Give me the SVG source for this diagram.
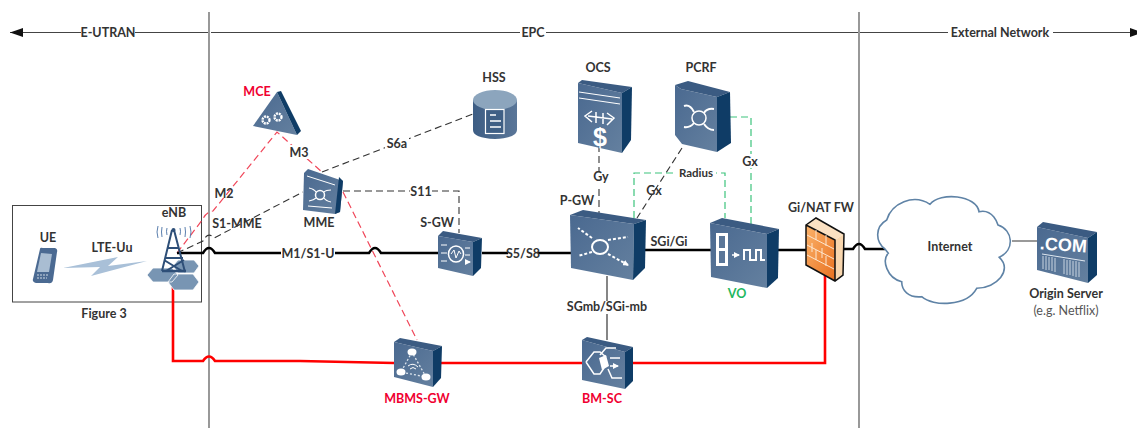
<svg xmlns="http://www.w3.org/2000/svg" width="1137" height="428" viewBox="0 0 1137 428">
<style>
text{font-family:Lato,"Liberation Sans",sans-serif;font-size:12.5px;font-weight:700;fill:#333;text-anchor:middle}
.r{fill:#f00030}.g{fill:#1fb860}
.n{font-weight:400;fill:#555}
.d{fill:none;stroke:#333;stroke-width:1.1;stroke-dasharray:7 4}
.dr{fill:none;stroke:#f0475a;stroke-width:1.2;stroke-dasharray:7 4}
.dg{fill:none;stroke:#3cc47c;stroke-width:1.2;stroke-dasharray:7 4}
.k{fill:none;stroke:#000;stroke-width:2.5}
.rl{fill:none;stroke:#f00;stroke-width:2.6}
.f{fill:url(#face)}.s{fill:#0f3c66}.t{fill:#3b5b82}
.w{fill:none;stroke:#fff;stroke-width:1.5}
.v{fill:none;stroke:#dfe7ef;stroke-width:1.3;stroke-dasharray:2 2}
.lb{fill:#fff;stroke:none}
</style>
<defs>
<marker id="a" viewBox="0 0 13 9" refX="13" refY="4.500" markerUnits="userSpaceOnUse" markerWidth="13" markerHeight="9" orient="auto-start-reverse"><path d="M0 0L13 4.500L0 9z" fill="#111"/></marker>
<marker id="wa" viewBox="0 0 6 6" refX="5" refY="3" markerUnits="userSpaceOnUse" markerWidth="6" markerHeight="6" orient="auto"><path d="M0 0L6 3L0 6z" fill="#fff"/></marker>
<linearGradient id="face" x1="0" y1="0" x2="1" y2="1"><stop offset="0" stop-color="#4a6990"/><stop offset="1" stop-color="#64809f"/></linearGradient>
<linearGradient id="fire" x1="0" y1="0" x2="1" y2="1"><stop offset="0" stop-color="#fbb36b"/><stop offset="1" stop-color="#e8701f"/></linearGradient>
<linearGradient id="cyl" x1="0" y1="0" x2="1" y2="0"><stop offset="0" stop-color="#3d5d84"/><stop offset="1" stop-color="#5a7698"/></linearGradient>
</defs>
<g id="zones" fill="none">
<path d="M209 12V428M859 12V428" stroke="#555" stroke-width="1.2"/>
<rect x="12.500" y="205.500" width="189" height="96.500" stroke="#444" stroke-width="1"/>
<path d="M10 32.500H208M211 32.500H858M860 32.500H1143" stroke="#444" stroke-width="1" marker-start="url(#a)" marker-end="url(#a)"/>
<rect class="lb" x="81" y="25" width="54" height="14"/><rect class="lb" x="520" y="25" width="26" height="14"/><rect class="lb" x="948" y="25" width="105" height="14"/>
<text x="108" y="37">E-UTRAN</text>
<text x="533" y="37">EPC</text>
<text x="1000" y="37">External Network</text>
</g>
<g id="connectors">
<path class="d" d="M177 253L203 241Q208 231 214 238L303 192M343 191H459V233M322 172L473 114"/>
<path class="dr" d="M177 253L203 219Q206 212 213 211L277 132L322 172M343 192L417 340"/>
<path class="k" d="M177 253H203Q209 243 215 253H369Q375 243 381 253H438M482 253H572M645 250H712M778 250H806M844 249H853Q859 239 865 249H885"/>
<path class="rl" d="M173 286V361H203Q209 352 215 361H300L394 363H825V275"/>
<path class="d" d="M599 145V213M682 148L637 218"/>
<path class="dg" d="M634 218V173H725V218M730 117H751V225"/>
<path d="M607 276V340" stroke="#222" stroke-width="1.1" fill="none"/>
<path d="M1012 241H1042" stroke="#555" stroke-width="1.2" fill="none"/>
</g>
<g id="ue"><path d="M40 249Q40 247 43 248L55 248Q58 249 57 252L53 280Q52 284 48 283L36 283Q32 282 33 279z" fill="#4b6a92"/><path d="M41 253L52 254L49 272L37 272z" fill="#a9bdd2"/><path d="M37 275H48M37 278H47" stroke="#cfd9e4" stroke-dasharray="2 1" fill="none"/><text x="48" y="242">UE</text></g>
<g id="lte"><path d="M63 268L118 257L108 266L147 261L91 276L100 267z" fill="#a9c0d8"/><text x="112" y="252">LTE-Uu</text></g>
<g id="enb">
<path d="M173 266l5-6h16l5 6-5 7h-16zM147 275l6-7h19l6 7-6 7h-19zM168 282l6-8h19l6 8-6 8h-19z" fill="#7895b3" stroke="#fff" stroke-width=".8"/>
<path d="M162 271L172 230M174 230L185 272M165 258L183 258M168 248H179M164 260L182 271M184 260L166 271" fill="none" stroke="#2e4f78" stroke-width="2"/>
<path d="M162 271H186" stroke="#2e4f78" stroke-width="2.500"/>
<circle cx="173.500" cy="230" r="2" fill="#2e4f78"/>
<path d="M158 226q-2 6 0 12M162 227q-1 5 0 10M167 228q-1 3 0 7M180 228q1 3 0 7M185 227q1 5 0 10M190 226q2 6 0 12" fill="none" stroke="#5b7fae" stroke-width="1"/>
<text x="174" y="217">eNB</text></g>
<g id="mce"><path d="M277 92L253 126L297 135z" class="f"/><path d="M277 92L301 131L297 135L253 126z" class="f" fill-opacity="0"/><path d="M277 92L281 91L301 131L297 135z" class="s"/><circle cx="266" cy="120" r="3.500" class="w" stroke-dasharray="2 .8" style="stroke-width:2.400"/><circle cx="278" cy="117" r="3.500" class="w" stroke-dasharray="2 .8" style="stroke-width:2.400"/><text class="r" x="257" y="96">MCE</text></g>
<g id="mme"><path d="M304 173L308 169L343 181L340 212L335 214L303 210z" class="f"/><path d="M339 177L343 181L340 212L335 214z" class="s"/><circle cx="320" cy="195" r="4.500" class="w"/><path d="M307 176L335 185M308 206L332 208" class="w" style="stroke-width:1"/><path d="M309 188Q314 189 316 192M309 201Q314 200 316 198M331 190Q326 190 324 192M331 202Q326 201 324 198" class="w" style="stroke-width:1.100"/><text x="319" y="227">MME</text></g>
<g id="hss"><path d="M473 100V130Q473 138 495 139Q517 138 517 130V100z" fill="url(#cyl)"/><ellipse cx="495" cy="100" rx="22" ry="10" fill="#8ca5bd"/><rect x="485.500" y="109.500" width="18.500" height="24" fill="#3f5f85" stroke="#fff" stroke-width="1.200"/><path d="M490 115H496M490 121H501M490 127H501" stroke="#fff" stroke-width="1.300"/><text x="494" y="82">HSS</text></g>
<g id="ocs"><path d="M578 83L622 93L622 153L578 143z" class="f"/><path d="M578 83L582 80L632 87L622 93z" class="t"/><path d="M622 93L632 87L631 140L622 153z" class="s"/><path d="M579 92L620 98M579 98L620 104" class="w" style="stroke-width:1"/><path d="M588 116L612 119M592 111L585 116L592 122M607 113L614 118L607 125M596 112V123M603 113V124" class="w"/><text x="600" y="146" style="font-size:25px;font-weight:700;fill:#fff;font-family:'Liberation Sans',sans-serif">$</text><text x="598" y="72">OCS</text></g>
<g id="pcrf"><path d="M675 85L681 89L717 97L717 152L682 144L675 135z" class="f"/><path d="M675 85L688 81L730 92L717 97L681 89z" class="t"/><path d="M717 97L730 92L731 143L717 152z" class="s"/><circle cx="699" cy="118" r="7" class="w"/><path d="M684 106Q690 104 694 112M714 109Q707 108 704 113M684 127Q690 128 694 123M714 130Q708 130 704 124" class="w" style="stroke-width:2"/><text x="701" y="72">PCRF</text></g>
<g id="sgw"><path d="M438 236L473 242L473 276L438 268z" class="f"/><path d="M438 236L443 231L482 238L473 242z" class="t"/><path d="M473 242L482 238L481 268L473 276z" class="s"/><ellipse cx="456" cy="254" rx="7.500" ry="8" class="w"/><path d="M451 254L454 250L456 258L459 251L461 254" fill="none" stroke="#fff"/><path d="M441 245H447M441 253H447M441 261H447M465 248H470M465 255H470M465 262H470" class="w" marker-end="url(#wa)" style="stroke-width:1"/><text x="437" y="227">S-GW</text></g>
<g id="pgw"><path d="M570 215L634 224L633 280L571 268z" class="f"/><path d="M570 215L583 210L646 220L634 224z" class="t"/><path d="M634 224L646 220L645 268L633 280z" class="s"/><ellipse cx="600" cy="247" rx="8" ry="7" class="w" style="stroke-width:2"/><path d="M592 238L578 228M608 240L628 237M592 252L578 256M608 254L628 265" class="w" stroke-dasharray="3 2" marker-end="url(#wa)" style="stroke-width:2"/><text x="577" y="205">P-GW</text></g>
<g id="vo"><path d="M710 223L767 234L767 288L711 277z" class="f"/><path d="M710 223L722 218L779 229L767 234z" class="t"/><path d="M767 234L779 229L778 278L767 288z" class="s"/><rect x="716" y="233" width="12" height="33" fill="#fff"/><rect x="719" y="236" width="6" height="12" fill="#5a7698"/><rect x="719" y="251" width="6" height="12" fill="#5a7698"/><path d="M732 255H739" class="w" marker-end="url(#wa)"/><path d="M744 260V250H750V260H756V250H761V260H765" class="w" style="stroke-width:2"/><text class="g" x="737" y="298">VO</text></g>
<g id="firewall"><path d="M806 225L816 218L844 234L835 240z" fill="#fbe1c2"/><path d="M806 225L835 240L835 281L806 265z" fill="url(#fire)"/><path d="M835 240L844 234L843 275L835 281z" fill="#f8d6ae"/><path d="M806 225L816 218L844 234L843 275L835 281L806 265zM806 225L835 240V281" fill="none" stroke="#111" stroke-width="1.500"/><path d="M807 235L834 249M807 245L834 259M807 255L834 269M816 230V240M826 235V246M812 243V252M822 248V258M816 250V260M826 256V266" stroke="#fde6cf" fill="none"/><text x="821" y="212">Gi/NAT FW</text></g>
<g id="internet"><path d="M885 249C875 241.700 875 226.700 886.700 220C891.700 203.300 913.300 193.300 930 204.300C940 191.700 976.700 195 979 211.700C993.300 208.300 998 225 998 225C1013.300 230 1015 250 999.300 257.300C1013 270 996.700 288.300 976.700 288.300C966.700 306.700 933 306.700 921.700 296.700C908 298 901.700 290 901.700 281.700C886.700 278 881.700 260 888.300 253.300z" fill="#fff" stroke="#5f83a6" stroke-width="1.600"/><text x="950" y="251">Internet</text></g>
<g id="origin"><path d="M1037 227L1088 238L1088 283L1037 270z" class="f"/><path d="M1037 227L1043 222L1097 232L1088 238z" class="t"/><path d="M1088 238L1097 232V275L1088 283z" class="s"/><text x="1063" y="251" transform="rotate(4 1063 251)" style="font-size:18px;font-weight:700;fill:#fff;font-family:'Liberation Sans',sans-serif">.COM</text><path d="M1042 254L1085 261" stroke="#dfe7ef" fill="none"/><path d="M1043 256V269M1046 256V270M1049 257V270M1052 257V271M1055 258V272M1064 259V274M1067 260V275M1070 260V275M1073 261V276M1076 261V277M1079 262V277" stroke="#c9d5e1" fill="none"/><text x="1066" y="298">Origin Server</text><text class="n" x="1066" y="315">(e.g. Netflix)</text></g>
<g id="mbms"><path d="M394 342L433 351L433 387L394 377z" class="f"/><path d="M394 342L400 338L442 346L433 351z" class="t"/><path d="M433 351L442 346L441 378L433 387z" class="s"/><path d="M412 352L401 372L426 377z" class="v"/><ellipse cx="412" cy="352" rx="4.500" ry="3.500" fill="#fff"/><ellipse cx="401" cy="372" rx="4.500" ry="3.500" fill="#fff"/><ellipse cx="426" cy="377" rx="4.500" ry="3.500" fill="#fff"/><path d="M408 366Q413 362 418 367M410 369Q413 366 416 369" fill="none" stroke="#fff"/><text class="r" x="417" y="403">MBMS-GW</text></g>
<g id="bmsc"><path d="M582 340L625 352L625 389L582 380z" class="f"/><path d="M582 340L587 337L633 347L625 352z" class="t"/><path d="M625 352L633 347V381L625 389z" class="s"/><path d="M586 362L594 352H600L606 357M586 362L594 374H600L604 368M600 355L606 348H616M608 369L612 378H622" class="w"/><path d="M610 358H620M610 366H618" class="w" marker-end="url(#wa)"/><path d="M599 358L606 355L609 366L602 370z" fill="#fff"/><text class="r" x="602" y="403">BM-SC</text></g>
<g id="labels">
<text x="224" y="198">M2</text><rect class="lb" x="289" y="145" width="20" height="14"/><text x="299" y="157">M3</text>
<text x="237" y="228">S1-MME</text>
<rect class="lb" x="281" y="247" width="54" height="12"/><text x="308" y="258">M1/S1-U</text>
<rect class="lb" x="385" y="137" width="24" height="13"/><text x="397" y="148">S6a</text>
<rect class="lb" x="410" y="185" width="22" height="12"/><text x="421" y="196">S11</text>
<rect class="lb" x="508" y="247" width="30" height="12"/><text x="523" y="258">S5/S8</text>
<rect class="lb" x="590" y="172" width="20" height="14"/><text x="601" y="181">Gy</text>
<text x="654" y="195">Gx</text>
<rect class="lb" x="677" y="167" width="39" height="12"/><text x="696" y="177" style="font-size:11.500px">Radius</text>
<rect class="lb" x="741" y="154" width="20" height="14"/><text x="750" y="166">Gx</text>
<text x="669" y="246">SGi/Gi</text>
<rect class="lb" x="565" y="301" width="85" height="13"/><text x="607" y="311">SGmb/SGi-mb</text>
<text x="104" y="318">Figure 3</text>
</g>
</svg>
